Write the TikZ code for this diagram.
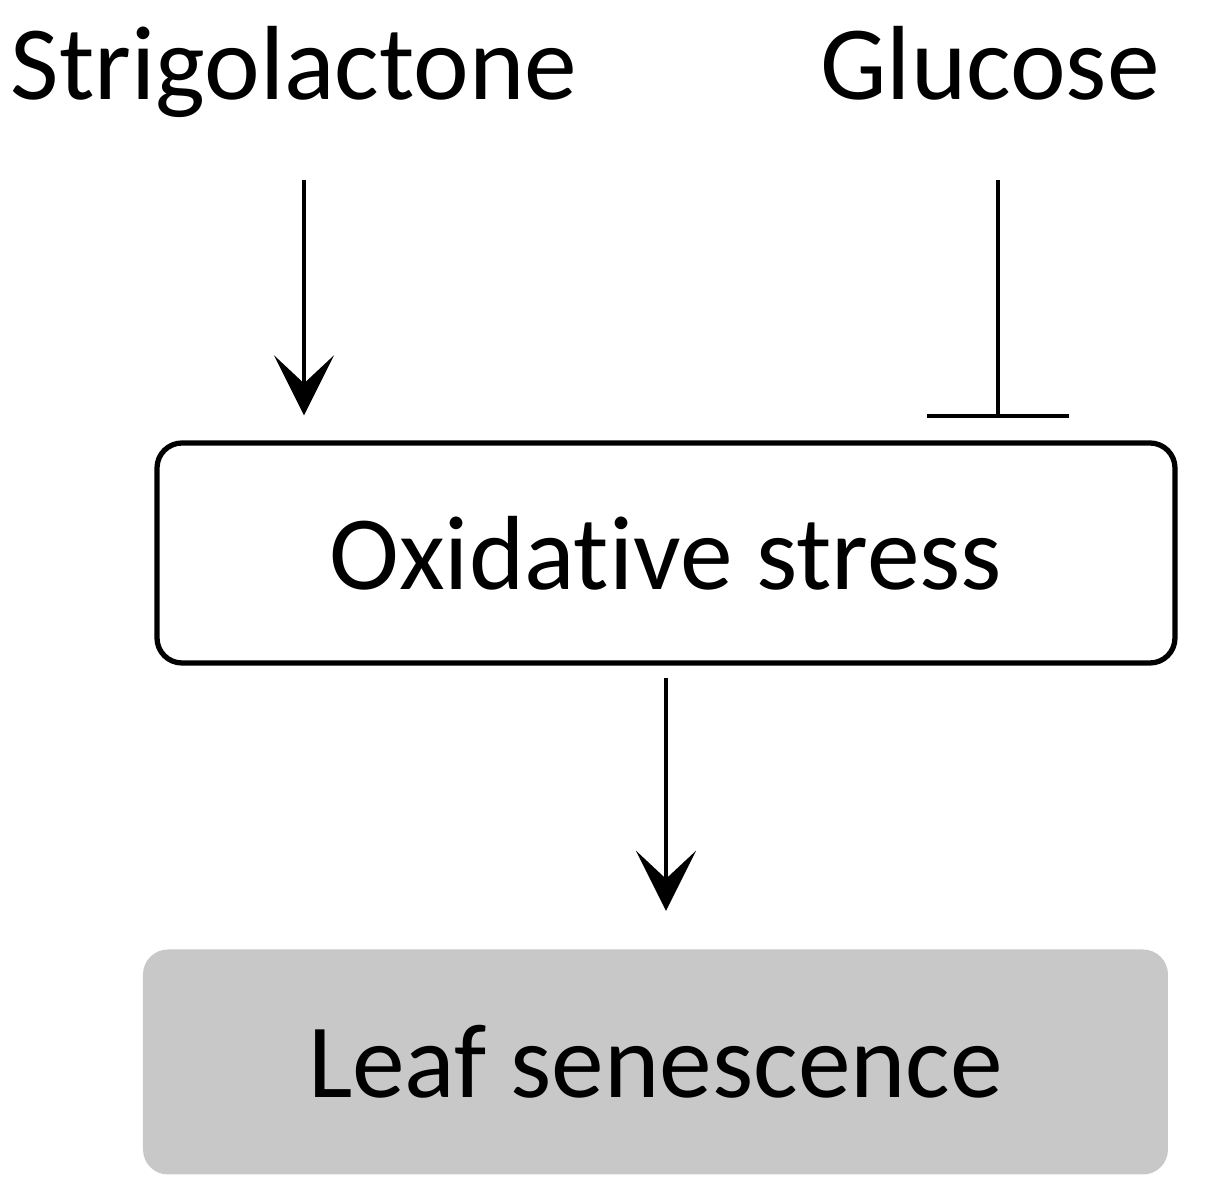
\documentclass[tikz,border=0pt]{standalone}
\usepackage{fontspec}
\setmainfont{Carlito}[RawFeature=-liga]
\usetikzlibrary{positioning, arrows.meta}
\definecolor{leafgray}{HTML}{C8C8C8}
\tikzstyle{label} = [font=\fontsize{30}{36}\selectfont, inner sep=0pt, anchor=base]
\tikzstyle{process} = [rectangle, rounded corners=0.25cm, minimum width=10.18cm, minimum height=2.2cm, text centered, draw=black, line width=1.5pt, fill=white, font=\fontsize{30}{36}\selectfont]
\tikzstyle{outcome} = [rectangle, rounded corners=0.25cm, minimum width=10.25cm, minimum height=2.25cm, text centered, fill=leafgray, font=\fontsize{30}{36}\selectfont]
\tikzstyle{arrow} = [line width=1.3pt, -{Stealth[length=6mm, width=6mm, inset=2.8mm]}]
\tikzstyle{inhibit} = [line width=1.3pt, -{Bar[width=1.42cm, line width=1.3pt]}]

\begin{document}
\begin{tikzpicture}
    \useasboundingbox (0,0) rectangle (12.11,12);

    \node (sl) [label] at (2.94,11.0) {Strigolactone};
    \node (glc) [label] at (9.9,11.0) {Glucose};

    \node (ox) [process] at (6.66,6.47) {Oxidative stress};
    \node (leaf) [outcome] at (6.555,1.38) {Leaf senescence};

    \coordinate (slstart) at (3.04,10.2);
    \coordinate (glcstart) at (9.98,10.2);
    \coordinate (oxstart) at (6.66,5.22);

    \draw[arrow] (slstart)--([yshift=0.25cm]slstart |- ox.north);
    \draw[inhibit] (glcstart)--([yshift=0.22cm]glcstart |- ox.north);
    \draw[arrow] (oxstart)--([yshift=0.38cm]oxstart |- leaf.north);

\end{tikzpicture}
\end{document}
